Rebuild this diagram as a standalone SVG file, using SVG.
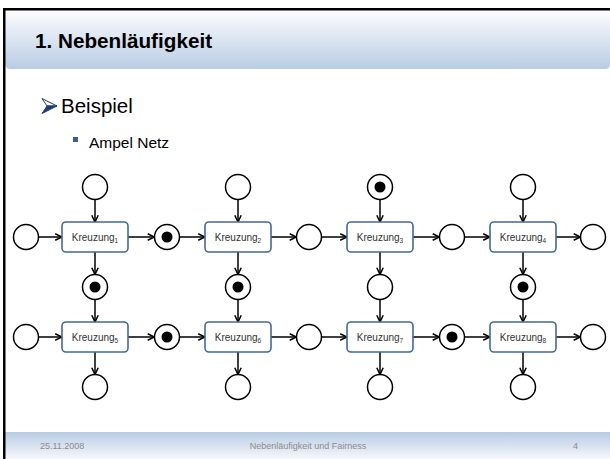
<svg xmlns="http://www.w3.org/2000/svg" width="610" height="459" viewBox="0 0 610 459">
  <defs>
    <linearGradient id="hdr" x1="0" y1="0" x2="0" y2="1">
      <stop offset="0" stop-color="#fdfdfe"/>
      <stop offset="1" stop-color="#b9cce4"/>
    </linearGradient>
    <linearGradient id="ftr" x1="0" y1="0" x2="0" y2="1">
      <stop offset="0" stop-color="#b8cbe3"/>
      <stop offset="1" stop-color="#f6f8fc"/>
    </linearGradient>
    <marker id="arr" viewBox="0 0 10 10" refX="9.5" refY="5" markerWidth="8" markerHeight="8" markerUnits="userSpaceOnUse" orient="auto">
      <path d="M1,1 L9.5,5 L1,9" fill="none" stroke="#000" stroke-width="1.9"/>
    </marker>
  </defs>
  <style>
    .place { fill: #fff; stroke: #000; stroke-width: 1.5; }
    .token { fill: #000; }
    .trans { fill: #fff; stroke: #41699a; stroke-width: 1.6; }
    .tlabel { font-family: "Liberation Sans", Arial, sans-serif; font-size: 10px; fill: #333; text-anchor: middle; }
    .sub { font-size: 6.5px; }
    .arc { stroke: #000; stroke-width: 1.5; fill: none; marker-end: url(#arr); }
    .foot { font-family: "Liberation Sans", Arial, sans-serif; font-size: 9px; fill: #8c8c8c; }
    .body { font-family: "Liberation Sans", Arial, sans-serif; fill: #000; }
  </style>

  <!-- slide background and frame -->
  <rect x="0" y="0" width="610" height="459" fill="#fff"/>
  <path d="M5,10 H610 V64 Q610,69 605,69 H11 Q5,69 5,63 Z" fill="url(#hdr)"/>
  <rect x="5" y="432" width="605" height="27" fill="url(#ftr)"/>
  <rect x="3" y="8" width="607" height="2.5" fill="#000"/>
  <rect x="3" y="8" width="2.5" height="451" fill="#000"/>

  <!-- title and bullets -->
  <text class="body" x="35" y="47.5" font-size="20.7" font-weight="bold">1. Nebenläufigkeit</text>
  <g id="bullet-arrow">
    <polygon points="42,98.5 57,106 47,106" fill="#fff" stroke="#1f3f73" stroke-width="1"/>
    <polygon points="47,106 57,106 42,113.5" fill="#1f3f73" stroke="#1f3f73" stroke-width="1"/>
  </g>
  <text class="body" x="61" y="113" font-size="20.5">Beispiel</text>
  <rect x="73" y="137" width="5" height="5" fill="#3a5f93"/>
  <text class="body" x="89" y="148" font-size="15.5">Ampel Netz</text>

  <!-- connectors -->
  <g id="arcs">
    <!-- row 1 horizontal -->
    <line class="arc" x1="38.5" y1="237" x2="62" y2="237"/>
    <line class="arc" x1="128" y1="237" x2="154.5" y2="237"/>
    <line class="arc" x1="179.5" y1="237" x2="205" y2="237"/>
    <line class="arc" x1="271" y1="237" x2="296.5" y2="237"/>
    <line class="arc" x1="321.5" y1="237" x2="347" y2="237"/>
    <line class="arc" x1="413" y1="237" x2="439.5" y2="237"/>
    <line class="arc" x1="464.5" y1="237" x2="490" y2="237"/>
    <line class="arc" x1="556" y1="237" x2="580.5" y2="237"/>
    <!-- row 2 horizontal -->
    <line class="arc" x1="38.5" y1="337" x2="62" y2="337"/>
    <line class="arc" x1="128" y1="337" x2="154.5" y2="337"/>
    <line class="arc" x1="179.5" y1="337" x2="205" y2="337"/>
    <line class="arc" x1="271" y1="337" x2="296.5" y2="337"/>
    <line class="arc" x1="321.5" y1="337" x2="347" y2="337"/>
    <line class="arc" x1="413" y1="337" x2="439.5" y2="337"/>
    <line class="arc" x1="464.5" y1="337" x2="490" y2="337"/>
    <line class="arc" x1="556" y1="337" x2="580.5" y2="337"/>
    <!-- vertical, column 1 -->
    <line class="arc" x1="95" y1="199.5" x2="95" y2="222"/>
    <line class="arc" x1="95" y1="252" x2="95" y2="274.5"/>
    <line class="arc" x1="95" y1="299.5" x2="95" y2="322"/>
    <line class="arc" x1="95" y1="352" x2="95" y2="374.5"/>
    <!-- vertical, column 2 -->
    <line class="arc" x1="238" y1="199.5" x2="238" y2="222"/>
    <line class="arc" x1="238" y1="252" x2="238" y2="274.5"/>
    <line class="arc" x1="238" y1="299.5" x2="238" y2="322"/>
    <line class="arc" x1="238" y1="352" x2="238" y2="374.5"/>
    <!-- vertical, column 3 -->
    <line class="arc" x1="380" y1="199.5" x2="380" y2="222"/>
    <line class="arc" x1="380" y1="252" x2="380" y2="274.5"/>
    <line class="arc" x1="380" y1="299.5" x2="380" y2="322"/>
    <line class="arc" x1="380" y1="352" x2="380" y2="374.5"/>
    <!-- vertical, column 4 -->
    <line class="arc" x1="523" y1="199.5" x2="523" y2="222"/>
    <line class="arc" x1="523" y1="252" x2="523" y2="274.5"/>
    <line class="arc" x1="523" y1="299.5" x2="523" y2="322"/>
    <line class="arc" x1="523" y1="352" x2="523" y2="374.5"/>
  </g>

  <!-- transitions -->
  <g id="k1"><rect class="trans" x="62" y="222" width="66" height="30" rx="4"/><text class="tlabel" x="95" y="240.5">Kreuzung<tspan class="sub" dy="2.5">1</tspan></text></g>
  <g id="k2"><rect class="trans" x="205" y="222" width="66" height="30" rx="4"/><text class="tlabel" x="238" y="240.5">Kreuzung<tspan class="sub" dy="2.5">2</tspan></text></g>
  <g id="k3"><rect class="trans" x="347" y="222" width="66" height="30" rx="4"/><text class="tlabel" x="380" y="240.5">Kreuzung<tspan class="sub" dy="2.5">3</tspan></text></g>
  <g id="k4"><rect class="trans" x="490" y="222" width="66" height="30" rx="4"/><text class="tlabel" x="523" y="240.5">Kreuzung<tspan class="sub" dy="2.5">4</tspan></text></g>
  <g id="k5"><rect class="trans" x="62" y="322" width="66" height="30" rx="4"/><text class="tlabel" x="95" y="340.5">Kreuzung<tspan class="sub" dy="2.5">5</tspan></text></g>
  <g id="k6"><rect class="trans" x="205" y="322" width="66" height="30" rx="4"/><text class="tlabel" x="238" y="340.5">Kreuzung<tspan class="sub" dy="2.5">6</tspan></text></g>
  <g id="k7"><rect class="trans" x="347" y="322" width="66" height="30" rx="4"/><text class="tlabel" x="380" y="340.5">Kreuzung<tspan class="sub" dy="2.5">7</tspan></text></g>
  <g id="k8"><rect class="trans" x="490" y="322" width="66" height="30" rx="4"/><text class="tlabel" x="523" y="340.5">Kreuzung<tspan class="sub" dy="2.5">8</tspan></text></g>

  <!-- places: top row -->
  <g id="p-t1"><circle class="place" cx="95" cy="187" r="12.5"/></g>
  <g id="p-t2"><circle class="place" cx="238" cy="187" r="12.5"/></g>
  <g id="p-t3"><circle class="place" cx="380" cy="187" r="12.5"/><circle class="token" cx="380" cy="187" r="5.5"/></g>
  <g id="p-t4"><circle class="place" cx="523" cy="187" r="12.5"/></g>
  <!-- places: row 1 horizontal -->
  <g id="p-a0"><circle class="place" cx="26" cy="237" r="12.5"/></g>
  <g id="p-a1"><circle class="place" cx="167" cy="237" r="12.5"/><circle class="token" cx="167" cy="237" r="5.5"/></g>
  <g id="p-a2"><circle class="place" cx="309" cy="237" r="12.5"/></g>
  <g id="p-a3"><circle class="place" cx="452" cy="237" r="12.5"/></g>
  <g id="p-a4"><circle class="place" cx="593" cy="237" r="12.5"/></g>
  <!-- places: middle row -->
  <g id="p-m1"><circle class="place" cx="95" cy="287" r="12.5"/><circle class="token" cx="95" cy="287" r="5.5"/></g>
  <g id="p-m2"><circle class="place" cx="238" cy="287" r="12.5"/><circle class="token" cx="238" cy="287" r="5.5"/></g>
  <g id="p-m3"><circle class="place" cx="380" cy="287" r="12.5"/></g>
  <g id="p-m4"><circle class="place" cx="523" cy="287" r="12.5"/><circle class="token" cx="523" cy="287" r="5.5"/></g>
  <!-- places: row 2 horizontal -->
  <g id="p-b0"><circle class="place" cx="26" cy="337" r="12.5"/></g>
  <g id="p-b1"><circle class="place" cx="167" cy="337" r="12.5"/><circle class="token" cx="167" cy="337" r="5.5"/></g>
  <g id="p-b2"><circle class="place" cx="309" cy="337" r="12.5"/></g>
  <g id="p-b3"><circle class="place" cx="452" cy="337" r="12.5"/><circle class="token" cx="452" cy="337" r="5.5"/></g>
  <g id="p-b4"><circle class="place" cx="593" cy="337" r="12.5"/></g>
  <!-- places: bottom row -->
  <g id="p-u1"><circle class="place" cx="95" cy="387" r="12.5"/></g>
  <g id="p-u2"><circle class="place" cx="238" cy="387" r="12.5"/></g>
  <g id="p-u3"><circle class="place" cx="380" cy="387" r="12.5"/></g>
  <g id="p-u4"><circle class="place" cx="523" cy="387" r="12.5"/></g>

  <!-- footer -->
  <text class="foot" x="40" y="449">25.11.2008</text>
  <text class="foot" x="308" y="449" text-anchor="middle">Nebenläufigkeit und Fairness</text>
  <text class="foot" x="573" y="449">4</text>
</svg>
